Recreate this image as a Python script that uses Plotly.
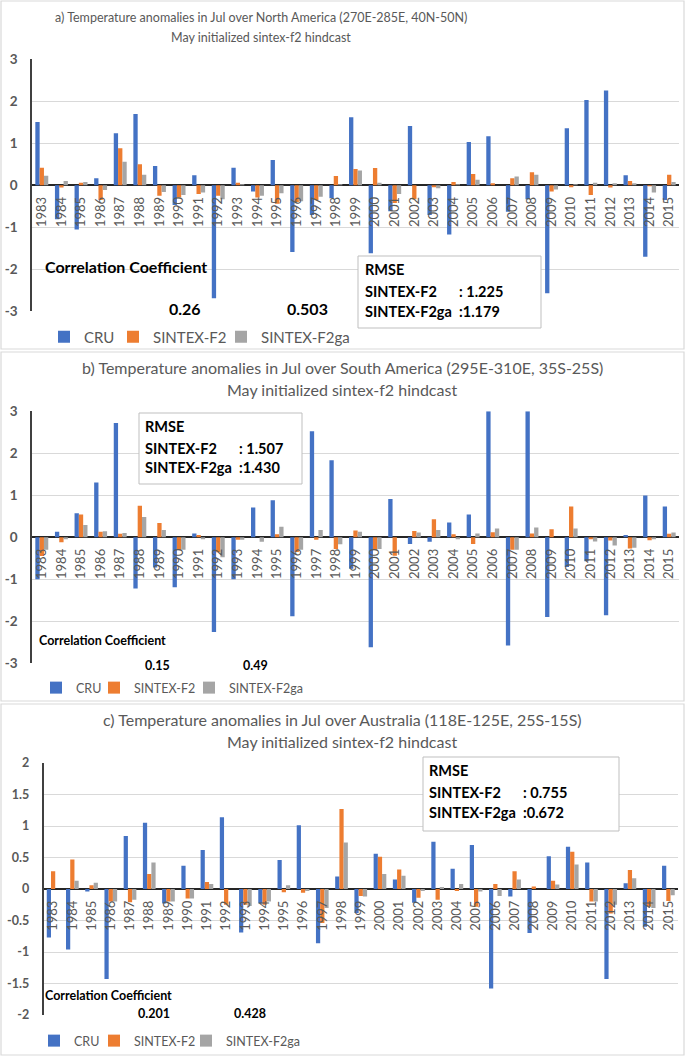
import plotly.graph_objects as go

# ---------------- data ----------------
years = ["1983", "1984", "1985", "1986", "1987", "1988", "1989", "1990", "1991", "1992",
         "1993", "1994", "1995", "1996", "1997", "1998", "1999", "2000", "2001", "2002",
         "2003", "2004", "2005", "2006", "2007", "2008", "2009", "2010", "2011", "2012",
         "2013", "2014", "2015"]

# a) North America
na_cru = [1.51, -0.81, -1.05, 0.17, 1.24, 1.70, 0.46, -0.47, 0.24, -2.69,
          0.42, -0.15, 0.60, -1.59, -0.71, -0.31, 1.62, -1.62, -0.62, 1.41,
          -0.71, -1.17, 1.03, 1.17, -0.63, -0.33, -2.57, 1.36, 2.03, 2.26,
          0.24, -1.70, -0.35]
na_f2 = [0.42, -0.05, 0.06, -0.35, 0.88, 0.50, -0.25, -0.29, -0.21, -0.25,
         0.06, -0.29, -0.44, -0.40, -0.35, 0.22, 0.39, 0.41, -0.42, -0.33,
         -0.04, 0.08, 0.27, 0.03, 0.17, 0.31, -0.15, -0.03, -0.23, -0.05,
         0.10, -0.01, 0.25]
na_f2ga = [0.23, 0.10, 0.08, -0.11, 0.56, 0.25, -0.16, -0.23, -0.17, -0.33,
           0.01, -0.25, -0.19, -0.38, -0.27, 0.02, 0.35, 0.06, -0.21, 0.00,
           -0.07, 0.02, 0.13, 0.00, 0.21, 0.25, -0.10, 0.01, 0.06, 0.05,
           0.03, -0.17, 0.08]

# b) South America
sa_cru = [-1.00, 0.13, 0.57, 1.30, 2.72, -1.22, -0.72, -1.19, 0.09, -2.26,
          -1.00, 0.71, 0.88, -1.88, 2.52, 1.83, -0.75, -2.62, 0.91, -0.16,
          -0.11, 0.35, 0.54, 3.00, -2.58, 3.00, -1.90, -0.71, -0.57, -1.86,
          0.05, 0.99, 0.73]
sa_f2 = [-0.45, -0.12, 0.54, 0.13, 0.08, 0.75, 0.34, -0.30, 0.05, -0.36,
         -0.06, 0.00, 0.07, -0.35, -0.06, -0.28, 0.16, -0.30, -0.44, 0.15,
         0.43, 0.07, -0.16, 0.12, -0.30, 0.09, 0.19, 0.73, -0.04, -0.08,
         -0.27, -0.07, 0.08]
sa_f2ga = [-0.30, -0.05, 0.29, 0.14, 0.10, 0.48, 0.17, -0.30, -0.03, -0.48,
           -0.06, -0.11, 0.25, -0.30, 0.17, -0.17, 0.13, -0.28, 0.00, 0.11,
           0.17, -0.03, 0.09, 0.21, -0.30, 0.23, 0.00, 0.21, -0.10, -0.20,
           -0.25, -0.05, 0.11]

# c) Australia
au_cru = [-0.77, -0.96, -0.04, -1.43, 0.84, 1.05, -0.23, 0.37, 0.62, 1.14,
          -0.69, -0.23, 0.46, 1.01, -0.86, 0.20, -0.38, 0.56, 0.15, -0.22,
          0.75, 0.32, 0.70, -1.58, -0.12, -0.70, 0.52, 0.67, 0.42, -1.43,
          0.09, -0.60, 0.37]
au_f2 = [0.28, 0.47, 0.06, -0.20, -0.21, 0.24, -0.20, -0.15, 0.11, -0.25,
         -0.25, -0.25, -0.05, -0.06, -0.54, 1.27, -0.11, 0.51, 0.31, -0.14,
         -0.17, -0.02, -0.28, 0.08, 0.28, 0.04, 0.13, 0.59, -0.20, -0.39,
         0.30, -0.28, -0.19]
au_f2ga = [0.00, 0.13, 0.10, -0.20, -0.17, 0.42, -0.20, -0.15, 0.08, 0.00,
           -0.27, -0.20, 0.06, -0.03, -0.30, 0.74, -0.12, 0.24, 0.21, -0.03,
           0.03, 0.08, -0.04, -0.11, 0.15, 0.00, 0.07, 0.39, -0.20, -0.25,
           0.17, -0.30, -0.10]

series_names = ["CRU", "SINTEX-F2", "SINTEX-F2ga"]
series_colors = ["#4472C4", "#ED7D31", "#A5A5A5"]

titles = [
    ("a) Temperature anomalies in Jul over North America (270E-285E, 40N-50N)", "May initialized sintex-f2 hindcast"),
    ("b) Temperature anomalies in Jul over South America (295E-310E, 35S-25S)", "May initialized sintex-f2 hindcast"),
    ("c) Temperature anomalies in Jul over Australia (118E-125E, 25S-15S)", "May initialized sintex-f2 hindcast"),
]
corr_values = [("0.26", "0.503"), ("0.15", "0.49"), ("0.201", "0.428")]
rmse_values = [(": 1.225", ":1.179"), (": 1.507", ":1.430"), (": 0.755", ":0.672")]

ab_ticks = [3, 2, 1, 0, -1, -2, -3]
ab_ticktext = ["3", "2", "1", "0", "-1", "-2", "-3"]
c_ticks = [2, 1.5, 1, 0.5, 0, -0.5, -1, -1.5, -2]
c_ticktext = ["2", "1.5", "1", "0.5", "0", "-0.5", "-1", "-1.5", "-2"]

# ---------------- layout helpers ----------------
W, H = 685, 1056
def px(x):
    return x / W
def py(y):
    return 1 - y / H

FONT = "Lato"
GRAY = "#595959"

panels = [
    dict(data=(na_cru, na_f2, na_f2ga), xdom=(32, 679), ytop=59.3, ybot=311.3, y0=185.3,
         rng=[-3, 3], tv=ab_ticks, tt=ab_ticktext, tickfs=13.5,
         title_x=261, title_y=(17, 37), title_fs=12.5,
         corr=(43, 266, 185, 307, 308, 16),
         rmse_box=(358, 256, 541, 328), rmse_tx=363, rmse_cx=457, rmse_y=(270, 291, 312),
         leg_y=337, leg_x=(81, 150, 258), leg_fs=15, frame=(1, 1, 684, 349)),
    dict(data=(sa_cru, sa_f2, sa_f2ga), xdom=(32, 679), ytop=411.2, ybot=663.2, y0=537.2,
         rng=[-3, 3], tv=ab_ticks, tt=ab_ticktext, tickfs=13.5,
         title_x=342, title_y=(367, 389), title_fs=16,
         corr=(37, 640, 157, 256, 665, 12.5),
         rmse_box=(139, 413, 302, 484), rmse_tx=143, rmse_cx=237, rmse_y=(427, 448, 468),
         leg_y=688, leg_x=(73, 131, 226), leg_fs=12.5, frame=(1, 352, 684, 701)),
    dict(data=(au_cru, au_f2, au_f2ga), xdom=(43.5, 678), ytop=763, ybot=1015, y0=889,
         rng=[-2, 2], tv=c_ticks, tt=c_ticktext, tickfs=12.5,
         title_x=342, title_y=(719, 741), title_fs=16,
         corr=(43, 995, 154, 250, 1013, 12.5),
         rmse_box=(423, 757, 619, 831), rmse_tx=427, rmse_cx=521, rmse_y=(770, 792, 812),
         leg_y=1041, leg_x=(71, 131, 223), leg_fs=12.5, frame=(1, 704, 684, 1055)),
]

fig = go.Figure()
layout = dict(width=W, height=H, margin=dict(l=0, r=0, t=0, b=0),
              paper_bgcolor="white", plot_bgcolor="white",
              barmode="group", bargap=0.34, bargroupgap=0.0,
              font=dict(family=FONT, color=GRAY), showlegend=True)
annotations = []
shapes = []
leg_idx = 0

for i, p in enumerate(panels):
    sfx = "" if i == 0 else str(i + 1)
    xname, yname = "x" + sfx, "y" + sfx
    for k in range(3):
        leg_idx += 1
        lname = "legend" if leg_idx == 1 else "legend" + str(leg_idx)
        fig.add_trace(go.Bar(x=years, y=p["data"][k], name=series_names[k],
                             marker=dict(color=series_colors[k], line=dict(width=0)),
                             xaxis=xname, yaxis=yname, legend=lname, showlegend=True))
        layout[lname] = dict(x=px(p["leg_x"][k] - 37), y=py(p["leg_y"]), xanchor="left",
                             yanchor="middle", orientation="h", bgcolor="rgba(0,0,0,0)",
                             font=dict(family=FONT, size=p["leg_fs"], color=GRAY),
                             borderwidth=0)
    layout["xaxis" + sfx] = dict(domain=[px(p["xdom"][0]), px(p["xdom"][1])],
                                 anchor="free", position=py(p["y0"]),
                                 type="category", showgrid=False, showline=False,
                                 ticks="", tickangle=-90, ticklabelstandoff=8,
                                 tickfont=dict(family=FONT, size=13, color=GRAY),
                                 fixedrange=True, automargin=False)
    layout["yaxis" + sfx] = dict(domain=[py(p["ybot"]), py(p["ytop"])], anchor=xname,
                                 range=p["rng"], tickvals=p["tv"], ticktext=p["tt"],
                                 showgrid=True, gridcolor="#D9D9D9", gridwidth=1,
                                 zeroline=True, zerolinecolor="#262626", zerolinewidth=1.5,
                                 showline=True, linecolor="#404040", linewidth=1.5,
                                 ticks="", ticklabelstandoff=10,
                                 tickfont=dict(family=FONT, size=p["tickfs"], color=GRAY,
                                               weight="bold"),
                                 fixedrange=True, automargin=False)
    # frame
    fx0, fy0, fx1, fy1 = p["frame"]
    shapes.append(dict(type="rect", xref="paper", yref="paper", x0=px(fx0), x1=px(fx1),
                       y0=py(fy1), y1=py(fy0), line=dict(color="#D9D9D9", width=1.2),
                       fillcolor="rgba(0,0,0,0)", layer="below"))
    # titles
    for line, yy in zip(titles[i], p["title_y"]):
        annotations.append(dict(text=line, xref="paper", yref="paper", x=px(p["title_x"]),
                                y=py(yy), xanchor="center", yanchor="middle", showarrow=False,
                                font=dict(family=FONT, size=p["title_fs"], color=GRAY)))
    # correlation coefficient
    cx, cy, v1x, v2x, vy, cfs = p["corr"]
    annotations.append(dict(text="Correlation Coefficient", xref="paper", yref="paper",
                            x=px(cx), y=py(cy), xanchor="left", yanchor="middle",
                            showarrow=False,
                            font=dict(family=FONT, size=cfs, color="black", weight="bold")))
    for val, vx in zip(corr_values[i], (v1x, v2x)):
        annotations.append(dict(text=val, xref="paper", yref="paper", x=px(vx), y=py(vy),
                                xanchor="center", yanchor="middle", showarrow=False,
                                font=dict(family=FONT, size=cfs, color="black", weight="bold")))
    # RMSE box
    bx0, by0, bx1, by1 = p["rmse_box"]
    shapes.append(dict(type="rect", xref="paper", yref="paper", x0=px(bx0), x1=px(bx1),
                       y0=py(by1), y1=py(by0), line=dict(color="#BFBFBF", width=1),
                       fillcolor="white", layer="above"))
    labels = ["RMSE", "SINTEX-F2", "SINTEX-F2ga"]
    for lab, yy in zip(labels, p["rmse_y"]):
        annotations.append(dict(text=lab, xref="paper", yref="paper", x=px(p["rmse_tx"]),
                                y=py(yy), xanchor="left", yanchor="middle", showarrow=False,
                                font=dict(family=FONT, size=14.5, color="black", weight="bold")))
    for val, yy in zip(rmse_values[i], p["rmse_y"][1:]):
        annotations.append(dict(text=val, xref="paper", yref="paper", x=px(p["rmse_cx"]),
                                y=py(yy), xanchor="left", yanchor="middle", showarrow=False,
                                font=dict(family=FONT, size=14.5, color="black", weight="bold")))

layout["annotations"] = annotations
layout["shapes"] = shapes
fig.update_layout(**layout)
fig.write_html("out.html", config={"displayModeBar": False},
               post_script="document.body.style.margin='0';"
                           "document.body.style.overflow='hidden';")
